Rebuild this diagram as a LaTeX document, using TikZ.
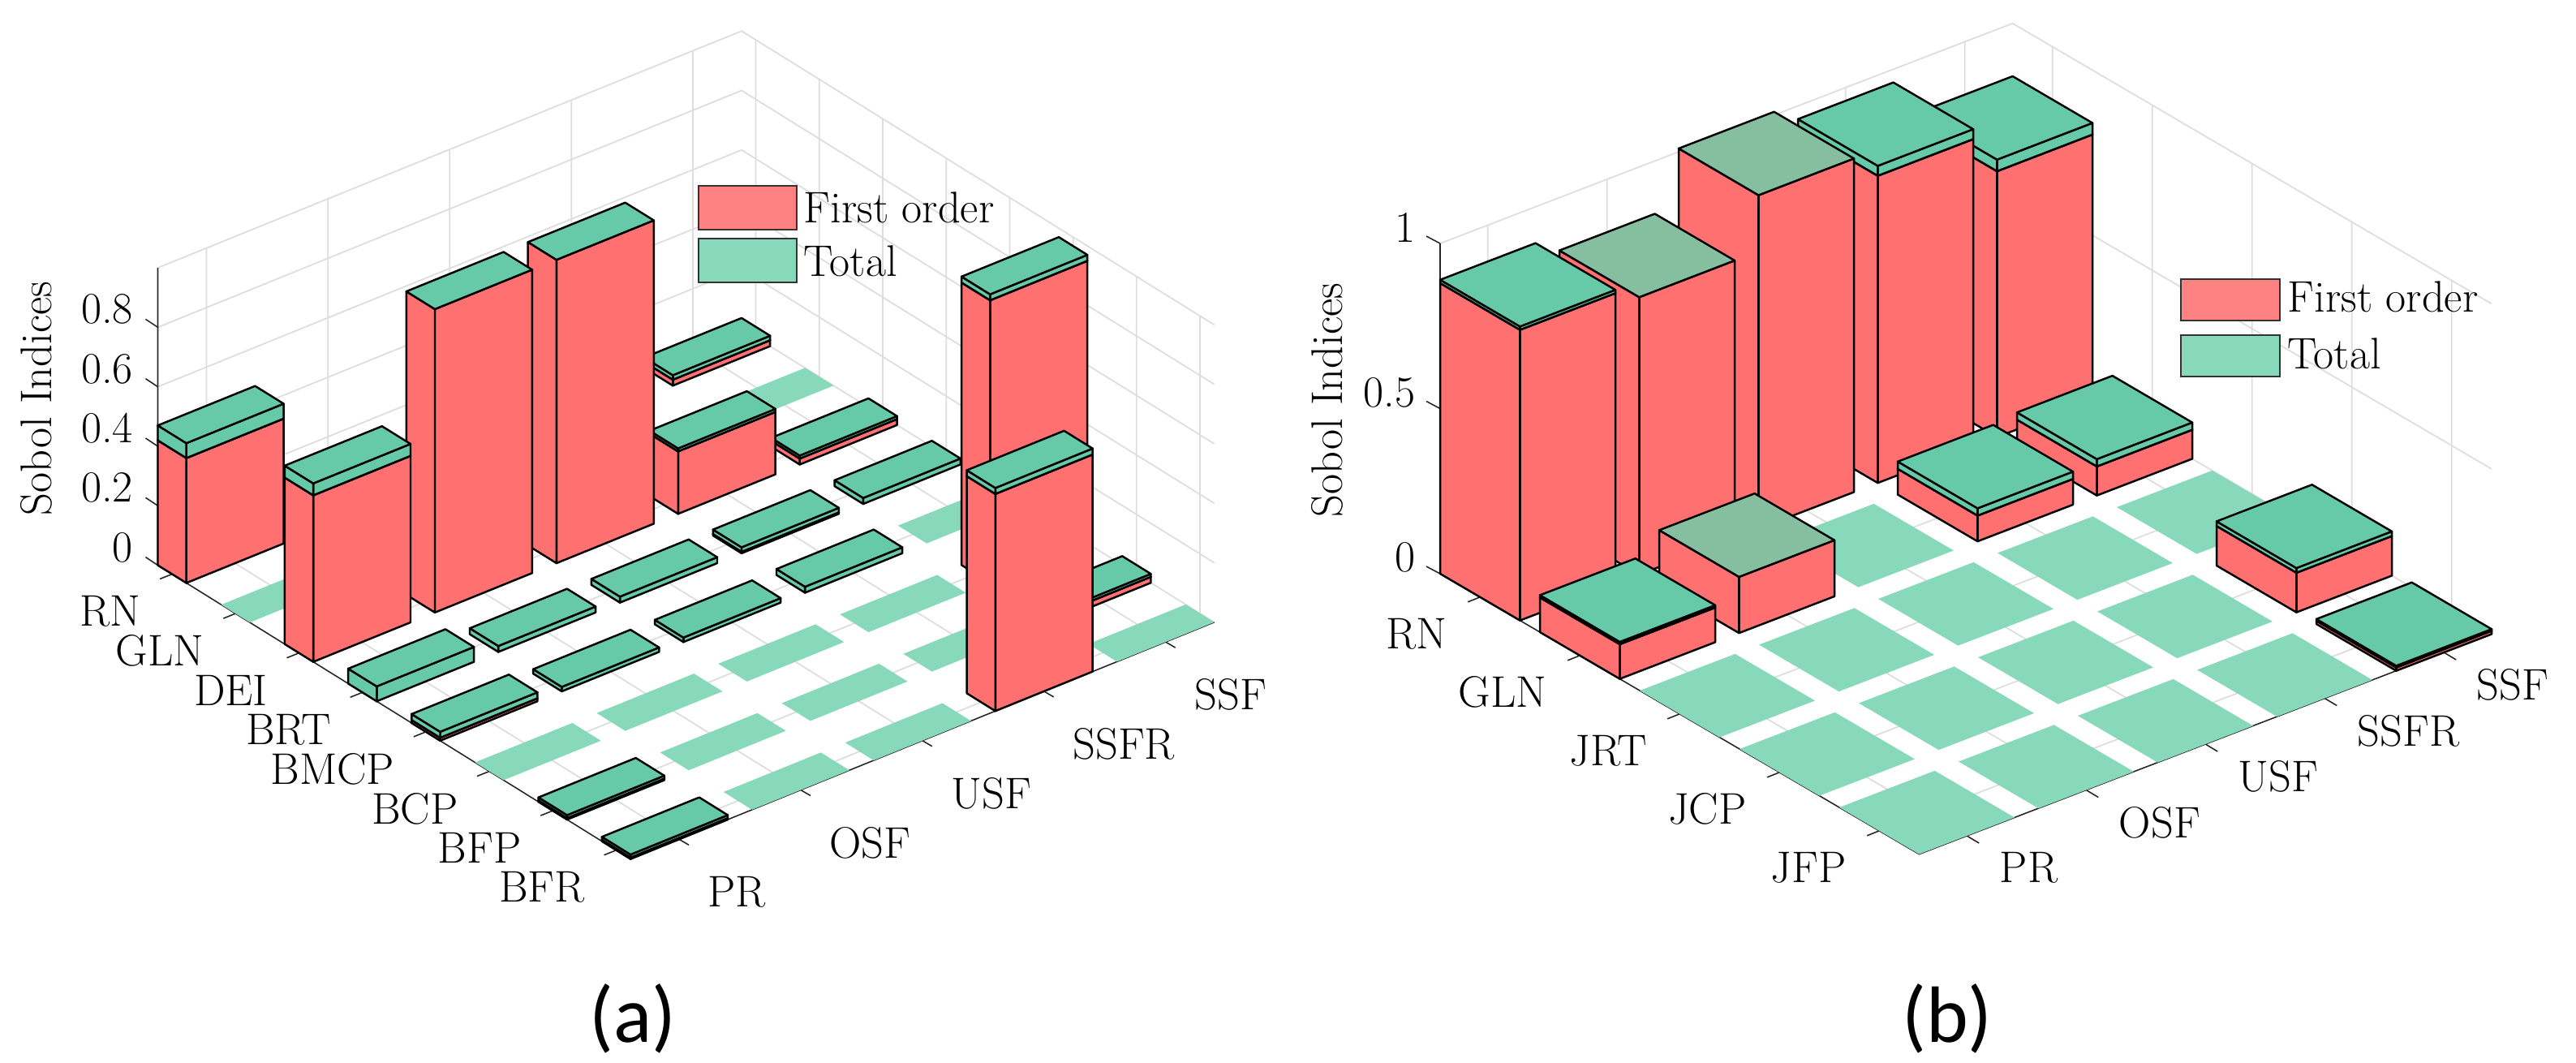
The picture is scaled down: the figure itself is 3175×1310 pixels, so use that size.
\documentclass[tikz,border=0pt]{standalone}
\usepackage{fontspec}
\newfontfamily\capfont{Carlito}
\usetikzlibrary{positioning}

\definecolor{sobolred}{HTML}{FF7070}
\definecolor{sobolredkey}{HTML}{FF8282}
\definecolor{sobolgreen}{HTML}{66C9A7}
\definecolor{sobolgray}{HTML}{86BEA0}
\definecolor{sobollight}{HTML}{88D8BC}
\definecolor{gridgray}{HTML}{DDDDDD}

\tikzset{
  redside/.style = {fill=sobolred, draw=black, line width=0.7pt, line join=round},
  greenside/.style = {fill=sobolgreen, draw=black, line width=0.7pt, line join=round},
  greentop/.style = {fill=sobolgreen, draw=black, line width=0.7pt, line join=round},
  graytop/.style = {fill=sobolgray, draw=black, line width=0.7pt, line join=round},
  flatslab/.style = {fill=sobollight},
  gridline/.style = {draw=gridgray, line width=0.5pt},
  axisline/.style = {draw=black!85, line width=0.45pt},
  ticklabel/.style = {font=\fontsize{15.5}{18}\selectfont, inner sep=0pt},
  keybox/.style = {draw=black!80, line width=0.8pt},
  caption/.style = {font=\capfont\fontsize{28}{32}\selectfont}
}

% projected point of (row, column, height) in the current panel
\newcommand\setpt[4]{%
  \pgfmathsetmacro\ptx{\Ox+((#2)-0.5)*\Rx+((#3)-0.5)*\Cx}%
  \pgfmathsetmacro\pty{\Oy+((#2)-0.5)*\Ry+((#3)-0.5)*\Cy-(#4)*\Zs}%
  \coordinate (#1) at (\ptx,\pty);}

% box: u0 u1 v0 v1 z0 z1 side-style top-style
\newcommand\sobolbox[8]{%
  \setpt{a}{#1}{#3}{#5}\setpt{b}{#2}{#3}{#5}\setpt{c}{#2}{#4}{#5}%
  \setpt{d}{#1}{#3}{#6}\setpt{e}{#2}{#3}{#6}\setpt{f}{#2}{#4}{#6}\setpt{g}{#1}{#4}{#6}%
  \filldraw[#7] (b) -- (c) -- (f) -- (e) -- cycle;
  \filldraw[#7] (a) -- (b) -- (e) -- (d) -- cycle;
  \filldraw[#8] (d) -- (e) -- (f) -- (g) -- cycle;}

% bar: row column first-order total top-flag
\newcommand\sobolbar[5]{%
  \pgfmathsetmacro\ua{#1-\hu}\pgfmathsetmacro\ub{#1+\hu}%
  \pgfmathsetmacro\va{#2-0.4}\pgfmathsetmacro\vb{#2+0.4}%
  \pgfmathtruncatemacro\hasfo{(#3)>0.001}%
  \pgfmathtruncatemacro\hast{(#4)>0.001}%
  \pgfmathtruncatemacro\hascap{(#4)>(#3)+0.001}%
  \ifnum#5=1 \tikzset{bartop/.style={graytop}}\else\tikzset{bartop/.style={greentop}}\fi
  \ifnum\hast=0
    \setpt{d}{\ua}{\va}{0}\setpt{e}{\ub}{\va}{0}\setpt{f}{\ub}{\vb}{0}\setpt{g}{\ua}{\vb}{0}%
    \fill[flatslab] (d) -- (e) -- (f) -- (g) -- cycle;
  \else
    \ifnum\hasfo=1 \sobolbox{\ua}{\ub}{\va}{\vb}{0}{#3}{redside}{bartop}\fi
    \ifnum\hascap=1 \sobolbox{\ua}{\ub}{\va}{\vb}{#3}{#4}{greenside}{greentop}\fi
  \fi}

\begin{document}
\begin{tikzpicture}[x=0.01cm, y=-0.01cm]
  \useasboundingbox (0,0) rectangle (3175,1310);

  % ---------- panel (a) ----------
  \def\Ox{158}\def\Oy{689.3}\def\Rx{78.2}\def\Ry{48.6}
  \def\Cx{149.9}\def\Cy{-60.8}\def\Zs{366.5}\def\hu{0.225}

  \foreach \z in {0,0.2,0.4,0.6,0.8,1} {
    \setpt{w1}{0.775}{0.6}{\z}\setpt{w2}{0.775}{5.4}{\z}\setpt{w3}{8.225}{5.4}{\z}
    \draw[gridline] (w1) -- (w2) -- (w3);
  }
  \foreach \v in {1,...,5} {
    \setpt{w1}{8.225}{\v}{0}\setpt{w2}{0.775}{\v}{0}\setpt{w3}{0.775}{\v}{1}
    \draw[gridline] (w1) -- (w2) -- (w3);
  }
  \foreach \u in {1,...,8} {
    \setpt{w1}{\u}{0.6}{0}\setpt{w2}{\u}{5.4}{0}\setpt{w3}{\u}{5.4}{1}
    \draw[gridline] (w1) -- (w2) -- (w3);
  }

  \setpt{ax0}{0.775}{0.6}{0}\setpt{ax1}{0.775}{0.6}{1}
  \setpt{ax2}{8.225}{0.6}{0}\setpt{ax3}{8.225}{5.4}{0}
  \draw[axisline] (ax1) -- (ax0) -- (ax2) -- (ax3);
  \foreach \z in {0,0.2,0.4,0.6,0.8} {
    \setpt{t}{0.775}{0.6}{\z}
    \draw[axisline] (t) -- ++(-15,-10);
    \node[ticklabel, anchor=east] (za-\z) at ([shift={(-30,-22)}]t) {\z};
  }
  \foreach \u/\name in {1/RN,2/GLN,3/DEI,4/BRT,5/BMCP,6/BCP,7/BFP,8/BFR} {
    \setpt{t}{\u}{0.6}{0}
    \draw[axisline] (t) -- ++(-15,6);
    \node[ticklabel, anchor=east] (ra-\name) at ([shift={(-38,46)}]t) {\name};
  }
  \foreach \v/\name in {1/PR,2/OSF,3/USF,4/SSFR,5/SSF} {
    \setpt{t}{8.225}{\v}{0}
    \draw[axisline] (t) -- ++(12,7);
    \node[ticklabel, anchor=north west] (ca-\name) at ([shift={(35,45)}]t) {\name};
  }

  \foreach \r/\c/\f/\t/\tp in {
    1/5/0.02/0.035/0, 1/4/0/0/0, 1/3/0/0/0, 1/2/0/0/0, 1/1/0.42/0.47/0,
    2/5/0/0/0, 2/4/0/0/0, 2/3/0/0/0, 2/2/0/0/0, 2/1/0/0/0,
    3/5/0.02/0.03/0, 3/4/0.21/0.22/0, 3/3/1.02/1.02/0, 3/2/1.02/1.02/0, 3/1/0.56/0.60/0,
    4/5/0/0.02/0, 4/4/0.005/0.02/0, 4/3/0/0.02/0, 4/2/0/0.02/0, 4/1/0/0.05/0,
    5/5/0/0/0, 5/4/0/0.02/0, 5/3/0/0.015/0, 5/2/0/0.015/0, 5/1/0.01/0.03/0,
    6/5/0.95/0.97/0, 6/4/0/0/0, 6/3/0/0/0, 6/2/0/0/0, 6/1/0/0/0,
    7/5/0.02/0.03/1, 7/4/0/0/0, 7/3/0/0/0, 7/2/0/0/0, 7/1/0.005/0.015/0,
    8/5/0/0/0, 8/4/0.73/0.75/0, 8/3/0/0/0, 8/2/0/0/0, 8/1/0.005/0.015/0}
    \sobolbar{\r}{\c}{\f}{\t}{\tp};

  \node[ticklabel, rotate=90] (ylab-a) at (45,491) {Sobol Indices};
  \filldraw[keybox, fill=sobolredkey] (861,229) rectangle (982,283);
  \filldraw[keybox, fill=sobollight] (861,294) rectangle (982,348);
  \node[ticklabel, anchor=west] (key-a1) at (990,256) {First order};
  \node[ticklabel, anchor=west] (key-a2) at (990,322) {Total};
  \node[caption] (cap-a) at (780,1255) {(a)};

  % ---------- panel (b) ----------
  \def\Ox{1748}\def\Oy{705.5}\def\Rx{123}\def\Ry{72}
  \def\Cx{147}\def\Cy{-56.5}\def\Zs{407}\def\hu{0.4}

  \foreach \z in {0,0.5,1} {
    \setpt{w1}{0.6}{0.6}{\z}\setpt{w2}{0.6}{5.4}{\z}\setpt{w3}{5.4}{5.4}{\z}
    \draw[gridline] (w1) -- (w2) -- (w3);
  }
  \foreach \v in {1,...,5} {
    \setpt{w1}{5.4}{\v}{0}\setpt{w2}{0.6}{\v}{0}\setpt{w3}{0.6}{\v}{1}
    \draw[gridline] (w1) -- (w2) -- (w3);
  }
  \foreach \u in {1,...,5} {
    \setpt{w1}{\u}{0.6}{0}\setpt{w2}{\u}{5.4}{0}\setpt{w3}{\u}{5.4}{1}
    \draw[gridline] (w1) -- (w2) -- (w3);
  }

  \setpt{bx0}{0.6}{0.6}{0}\setpt{bx1}{0.6}{0.6}{1}
  \setpt{bx2}{5.4}{0.6}{0}\setpt{bx3}{5.4}{5.4}{0}
  \draw[axisline] (bx1) -- (bx0) -- (bx2) -- (bx3);
  \foreach \z in {0,0.5,1} {
    \setpt{t}{0.6}{0.6}{\z}
    \draw[axisline] (t) -- ++(-17,-9);
    \node[ticklabel, anchor=east] (zb-\z) at ([shift={(-30,-20)}]t) {\z};
  }
  \foreach \u/\name in {1/RN,2/GLN,3/JRT,4/JCP,5/JFP} {
    \setpt{t}{\u}{0.6}{0}
    \draw[axisline] (t) -- ++(-15,6);
    \node[ticklabel, anchor=east] (rb-\name) at ([shift={(-40,45)}]t) {\name};
  }
  \foreach \v/\name in {1/PR,2/OSF,3/USF,4/SSFR,5/SSF} {
    \setpt{t}{5.4}{\v}{0}
    \draw[axisline] (t) -- ++(15,9);
    \node[ticklabel, anchor=north west] (cb-\name) at ([shift={(40,20)}]t) {\name};
  }

  \foreach \r/\c/\f/\t/\tp in {
    1/5/0.805/0.84/0, 1/4/0.93/0.96/0, 1/3/1.01/1.01/1, 1/2/0.84/0.84/1, 1/1/0.88/0.89/0,
    2/5/0.088/0.11/0, 2/4/0.078/0.10/0, 2/3/0/0/0, 2/2/0.17/0.17/1, 2/1/0.105/0.112/0,
    3/5/0/0/0, 3/4/0/0/0, 3/3/0/0/0, 3/2/0/0/0, 3/1/0/0/0,
    4/5/0.12/0.134/0, 4/4/0/0/0, 4/3/0/0/0, 4/2/0/0/0, 4/1/0/0/0,
    5/5/0.01/0.015/0, 5/4/0/0/0, 5/3/0/0/0, 5/2/0/0/0, 5/1/0/0/0}
    \sobolbar{\r}{\c}{\f}{\t}{\tp};

  \node[ticklabel, rotate=90] (ylab-b) at (1636,493) {Sobol Indices};
  \filldraw[keybox, fill=sobolredkey] (2688,344) rectangle (2810,395);
  \filldraw[keybox, fill=sobollight] (2688,413) rectangle (2810,464);
  \node[ticklabel, anchor=west] (key-b1) at (2819,366) {First order};
  \node[ticklabel, anchor=west] (key-b2) at (2819,436) {Total};
  \node[caption] (cap-b) at (2400,1255) {(b)};
\end{tikzpicture}
\end{document}
